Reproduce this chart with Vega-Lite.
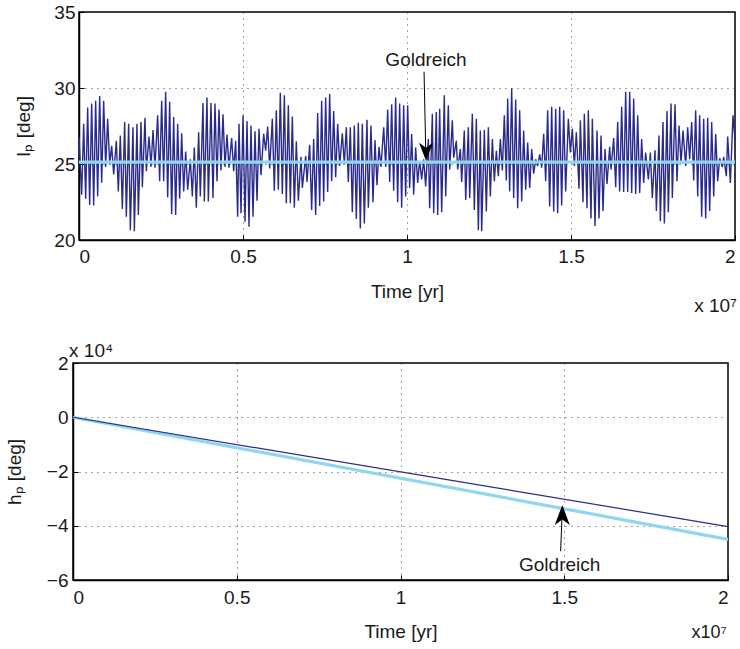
{
"$schema": "https://vega.github.io/schema/vega-lite/v6.json",
"padding": {"left": 0, "top": 2, "right": 2, "bottom": 0},
"background": "#ffffff",
"spacing": 23,
"config": {
  "font": "Liberation Sans",
  "view": {"stroke": "#000000", "strokeWidth": 1.5},
  "axis": {
    "domainColor": "#000000", "domainWidth": 1.5,
    "labelFont": "Liberation Sans", "labelFontSize": 19, "labelColor": "#1a1a1a",
    "titleFont": "Liberation Sans", "titleFontSize": 19, "titleFontWeight": "normal", "titleColor": "#1a1a1a",
    "grid": true, "gridColor": "#333333", "gridDash": [1, 5], "gridWidth": 1, "gridOpacity": 0.9,
    "ticks": true, "tickSize": -5, "tickColor": "#000000", "tickWidth": 1
  }
},
"datasets": {
  "ip": [
    {"t":0.0,"I":26.76},{"t":0.0081,"I":22.98},{"t":0.0142,"I":27.64},{"t":0.0203,"I":22.71},{"t":0.0264,"I":28.71},{"t":0.0325,"I":22.31},{"t":0.0386,"I":28.98},{"t":0.0447,"I":22.27},{"t":0.0508,"I":29.16},{"t":0.0569,"I":22.87},
    {"t":0.0630,"I":29.47},{"t":0.0691,"I":23.76},{"t":0.0752,"I":29.16},{"t":0.0813,"I":24.80},{"t":0.0874,"I":27.98},{"t":0.0935,"I":24.98},{"t":0.0996,"I":26.20},{"t":0.1057,"I":24.31},{"t":0.1138,"I":26.53},{"t":0.1199,"I":23.20},
    {"t":0.1260,"I":26.87},{"t":0.1321,"I":22.04},{"t":0.1392,"I":27.76},{"t":0.1443,"I":21.53},{"t":0.1514,"I":27.64},{"t":0.1565,"I":20.64},{"t":0.1646,"I":27.42},{"t":0.1687,"I":20.58},{"t":0.1768,"I":27.64},{"t":0.1809,"I":21.64},
    {"t":0.1890,"I":27.76},{"t":0.1931,"I":23.47},{"t":0.2012,"I":28.04},{"t":0.2053,"I":24.53},{"t":0.2134,"I":26.80},{"t":0.2195,"I":24.80},{"t":0.2256,"I":27.24},{"t":0.2317,"I":24.76},{"t":0.2398,"I":28.20},{"t":0.2459,"I":23.87},
    {"t":0.2520,"I":29.16},{"t":0.2581,"I":23.87},{"t":0.2642,"I":29.76},{"t":0.2703,"I":22.80},{"t":0.2764,"I":29.09},{"t":0.2825,"I":21.69},{"t":0.2886,"I":28.09},{"t":0.2947,"I":21.64},{"t":0.3008,"I":27.64},{"t":0.3069,"I":22.71},
    {"t":0.3130,"I":27.02},{"t":0.3191,"I":23.20},{"t":0.3252,"I":25.82},{"t":0.3313,"I":23.31},{"t":0.3394,"I":25.31},{"t":0.3455,"I":22.87},{"t":0.3516,"I":26.09},{"t":0.3577,"I":22.13},{"t":0.3648,"I":27.09},{"t":0.3699,"I":22.87},
    {"t":0.3780,"I":29.02},{"t":0.3821,"I":22.53},{"t":0.3902,"I":29.38},{"t":0.3943,"I":22.53},{"t":0.4024,"I":29.02},{"t":0.4085,"I":22.76},{"t":0.4146,"I":28.98},{"t":0.4207,"I":23.87},{"t":0.4268,"I":28.58},{"t":0.4329,"I":24.58},
    {"t":0.4390,"I":28.27},{"t":0.4451,"I":24.80},{"t":0.4512,"I":26.93},{"t":0.4573,"I":24.76},{"t":0.4654,"I":26.71},{"t":0.4715,"I":24.53},{"t":0.4776,"I":26.53},{"t":0.4837,"I":21.53},
    {"t":0.4878,"I":27.64},{"t":0.4939,"I":21.76},{"t":0.5000,"I":28.20},{"t":0.5061,"I":21.20},{"t":0.5122,"I":27.82},{"t":0.5183,"I":20.87},{"t":0.5244,"I":27.53},{"t":0.5305,"I":21.53},{"t":0.5366,"I":27.16},{"t":0.5427,"I":22.58},
    {"t":0.5488,"I":27.31},{"t":0.5549,"I":24.27},{"t":0.5630,"I":26.98},{"t":0.5691,"I":25.87},{"t":0.5752,"I":27.47},{"t":0.5813,"I":24.71},{"t":0.5894,"I":27.98},{"t":0.5955,"I":23.24},{"t":0.6016,"I":28.53},{"t":0.6077,"I":23.31},
    {"t":0.6138,"I":29.69},{"t":0.6199,"I":23.02},{"t":0.6260,"I":29.53},{"t":0.6321,"I":22.42},{"t":0.6382,"I":28.87},{"t":0.6443,"I":22.42},{"t":0.6504,"I":28.13},{"t":0.6565,"I":22.13},{"t":0.6626,"I":26.49},{"t":0.6687,"I":22.58},
    {"t":0.6768,"I":25.47},{"t":0.6809,"I":23.42},{"t":0.6911,"I":25.53},{"t":0.6951,"I":23.82},{"t":0.7033,"I":26.27},{"t":0.7093,"I":21.98},{"t":0.7154,"I":26.64},{"t":0.7215,"I":21.64},{"t":0.7276,"I":28.36},{"t":0.7337,"I":22.24},
    {"t":0.7398,"I":29.16},{"t":0.7459,"I":22.53},{"t":0.7520,"I":29.38},{"t":0.7581,"I":23.16},{"t":0.7642,"I":29.60},{"t":0.7703,"I":23.87},{"t":0.7764,"I":28.49},{"t":0.7825,"I":24.13},{"t":0.7886,"I":27.64},{"t":0.7947,"I":24.87},
    {"t":0.8028,"I":27.02},{"t":0.8089,"I":24.98},{"t":0.8150,"I":27.42},{"t":0.8211,"I":23.82},{"t":0.8272,"I":27.42},{"t":0.8333,"I":21.82},{"t":0.8394,"I":27.53},{"t":0.8455,"I":21.38},{"t":0.8516,"I":27.71},{"t":0.8577,"I":20.76},
    {"t":0.8638,"I":27.64},{"t":0.8699,"I":21.09},{"t":0.8780,"I":27.91},{"t":0.8821,"I":22.13},{"t":0.8902,"I":27.53},{"t":0.8963,"I":22.49},{"t":0.9024,"I":26.58},{"t":0.9085,"I":23.60},{"t":0.9146,"I":26.13},{"t":0.9207,"I":24.80},
    {"t":0.9289,"I":27.42},{"t":0.9350,"I":24.80},{"t":0.9411,"I":28.58},{"t":0.9472,"I":23.82},{"t":0.9533,"I":28.93},{"t":0.9593,"I":23.24},{"t":0.9654,"I":29.38},{"t":0.9715,"I":22.49},{"t":0.9776,"I":28.98},{"t":0.9837,"I":22.13},
    {"t":0.9898,"I":28.87},{"t":0.9959,"I":22.87},{"t":1.0020,"I":28.87},{"t":1.0081,"I":23.42},{"t":1.0142,"I":26.98},{"t":1.0203,"I":22.98},{"t":1.0264,"I":26.09},{"t":1.0325,"I":23.76},{"t":1.0386,"I":25.20},{"t":1.0447,"I":23.98},
    {"t":1.0508,"I":25.31},{"t":1.0569,"I":23.53},{"t":1.0650,"I":26.64},{"t":1.0691,"I":22.09},{"t":1.0772,"I":28.31},{"t":1.0813,"I":21.76},{"t":1.0894,"I":28.42},{"t":1.0935,"I":21.64},{"t":1.0996,"I":28.64},{"t":1.1057,"I":21.82},
    {"t":1.1138,"I":29.53},{"t":1.1179,"I":22.87},{"t":1.1260,"I":28.87},{"t":1.1301,"I":24.64},{"t":1.1382,"I":27.87},{"t":1.1423,"I":25.42},{"t":1.1504,"I":26.53},{"t":1.1545,"I":24.64},{"t":1.1626,"I":25.98},{"t":1.1667,"I":23.82},
    {"t":1.1748,"I":27.20},{"t":1.1789,"I":22.64},{"t":1.1870,"I":27.42},{"t":1.1911,"I":22.76},{"t":1.1992,"I":28.31},{"t":1.2053,"I":21.98},{"t":1.2114,"I":27.98},{"t":1.2175,"I":20.64},{"t":1.2236,"I":27.20},{"t":1.2276,"I":20.58},
    {"t":1.2358,"I":27.24},{"t":1.2419,"I":21.87},{"t":1.2480,"I":27.42},{"t":1.2541,"I":22.87},{"t":1.2602,"I":26.64},{"t":1.2663,"I":23.87},{"t":1.2724,"I":25.87},{"t":1.2785,"I":24.20},{"t":1.2846,"I":26.64},{"t":1.2907,"I":24.58},
    {"t":1.2967,"I":28.20},{"t":1.3028,"I":23.91},{"t":1.3069,"I":29.31},{"t":1.3130,"I":23.20},{"t":1.3191,"I":29.98},{"t":1.3252,"I":22.76},{"t":1.3313,"I":29.24},{"t":1.3374,"I":22.09},{"t":1.3435,"I":28.53},{"t":1.3496,"I":22.53},
    {"t":1.3557,"I":27.20},{"t":1.3618,"I":23.31},{"t":1.3679,"I":26.42},{"t":1.3740,"I":23.42},{"t":1.3801,"I":25.98},{"t":1.3862,"I":24.36},{"t":1.3923,"I":25.31},{"t":1.3984,"I":24.87},{"t":1.4045,"I":25.64},{"t":1.4106,"I":24.76},
    {"t":1.4167,"I":26.98},{"t":1.4228,"I":23.87},{"t":1.4289,"I":28.53},{"t":1.4350,"I":22.20},{"t":1.4411,"I":28.76},{"t":1.4472,"I":21.87},{"t":1.4533,"I":28.64},{"t":1.4593,"I":21.76},{"t":1.4654,"I":28.76},{"t":1.4715,"I":22.27},
    {"t":1.4776,"I":28.53},{"t":1.4837,"I":23.20},
    {"t":1.4919,"I":27.98},{"t":1.4980,"I":25.76},{"t":1.5041,"I":27.31},{"t":1.5102,"I":24.87},{"t":1.5163,"I":27.09},{"t":1.5244,"I":23.38},{"t":1.5285,"I":27.87},{"t":1.5366,"I":22.49},{"t":1.5406,"I":28.31},{"t":1.5488,"I":22.09},
    {"t":1.5528,"I":28.53},{"t":1.5610,"I":21.42},{"t":1.5650,"I":27.98},{"t":1.5732,"I":20.93},{"t":1.5793,"I":27.20},{"t":1.5854,"I":21.42},{"t":1.5915,"I":26.87},{"t":1.5976,"I":21.91},{"t":1.6037,"I":25.98},{"t":1.6098,"I":23.69},
    {"t":1.6179,"I":26.13},{"t":1.6220,"I":24.64},{"t":1.6301,"I":26.71},{"t":1.6362,"I":23.47},{"t":1.6423,"I":27.76},{"t":1.6484,"I":23.20},{"t":1.6545,"I":28.76},{"t":1.6606,"I":23.16},{"t":1.6667,"I":29.76},{"t":1.6728,"I":23.16},
    {"t":1.6789,"I":29.76},{"t":1.6850,"I":23.09},{"t":1.6911,"I":29.31},{"t":1.6972,"I":23.02},{"t":1.7033,"I":28.20},{"t":1.7093,"I":23.09},{"t":1.7154,"I":26.64},{"t":1.7215,"I":23.76},{"t":1.7276,"I":25.76},{"t":1.7358,"I":23.98},
    {"t":1.7419,"I":25.76},{"t":1.7480,"I":22.76},{"t":1.7561,"I":25.91},{"t":1.7602,"I":21.91},{"t":1.7683,"I":26.87},{"t":1.7724,"I":21.24},{"t":1.7805,"I":27.76},{"t":1.7846,"I":21.09},{"t":1.7927,"I":28.49},{"t":1.7967,"I":21.82},
    {"t":1.8049,"I":28.98},{"t":1.8089,"I":22.76},{"t":1.8171,"I":28.93},{"t":1.8232,"I":23.87},{"t":1.8293,"I":27.53},{"t":1.8354,"I":25.02},{"t":1.8415,"I":27.20},{"t":1.8496,"I":24.87},{"t":1.8557,"I":27.42},{"t":1.8618,"I":25.31},
    {"t":1.8679,"I":27.76},{"t":1.8740,"I":23.91},{"t":1.8801,"I":28.53},{"t":1.8862,"I":22.87},{"t":1.8923,"I":28.20},{"t":1.8984,"I":21.53},{"t":1.9045,"I":27.98},{"t":1.9106,"I":21.42},{"t":1.9167,"I":28.04},{"t":1.9228,"I":21.91},
    {"t":1.9289,"I":27.76},{"t":1.9350,"I":22.87},{"t":1.9411,"I":26.98},{"t":1.9472,"I":23.87},{"t":1.9533,"I":25.38},{"t":1.9614,"I":24.80},{"t":1.9654,"I":25.47},{"t":1.9736,"I":24.20},{"t":1.9776,"I":26.80},{"t":1.9858,"I":23.76},
    {"t":1.9939,"I":28.20},{"t":2.0,"I":26.6}
  ]
},
"vconcat": [
  {"spacing": 0, "hconcat": [
  {"width": 14, "height": 10, "view": {"stroke": null}, "data": {"values": []}, "mark": "point", "encoding": {}},
  {
    "width": 656, "height": 228,
    "encoding": {
      "x": {"field": "t", "type": "quantitative", "scale": {"domain": [0, 2], "nice": false},
            "axis": {"title": "Time [yr]", "values": [0, 0.5, 1, 1.5, 2], "format": "~g", "labelPadding": 12, "titlePadding": 16}},
      "y": {"field": "I", "type": "quantitative", "scale": {"domain": [20, 35], "nice": false, "zero": false},
            "axis": {"title": "Iₚ [deg]", "values": [20, 25, 30, 35], "labelPadding": 9, "titlePadding": 20}}
    },
    "layer": [
      {"data": {"name": "ip"}, "mark": {"type": "line", "color": "#2a2a8c", "strokeWidth": 1.4}},
      {"data": {"values": [{"t": 0, "I": 25.12}, {"t": 2, "I": 25.12}]}, "mark": {"type": "line", "color": "#8fd6ee", "strokeWidth": 3.2}},
      {"data": {"values": [{"t": 1.052, "I": 31.07, "t2": 1.057, "I2": 26.0}]}, "mark": {"type": "rule", "color": "#000000", "strokeWidth": 1},
       "encoding": {"x2": {"field": "t2"}, "y2": {"field": "I2"}}},
      {"data": {"values": [{"t": 1.058, "I": 25.8}]}, "mark": {"type": "point", "shape": "M-1,-1.29L0,1.29L1,-1.29L0,-0.6Z", "size": 196, "filled": true, "color": "#000000", "opacity": 1}},
      {"data": {"values": [{"t": 1.058, "I": 31.87, "label": "Goldreich"}]}, "mark": {"type": "text", "fontSize": 19, "color": "#1a1a1a", "align": "center", "baseline": "middle"},
       "encoding": {"text": {"field": "label"}}},
      {"data": {"values": [{"t": 2.006, "I": 15.67, "label": "x 10⁷"}]}, "mark": {"type": "text", "fontSize": 19, "color": "#1a1a1a", "align": "right", "baseline": "middle"},
       "encoding": {"text": {"field": "label"}}}
    ]
  }]},
  {"spacing": 0, "hconcat": [
  {"width": 4, "height": 10, "view": {"stroke": null}, "data": {"values": []}, "mark": "point", "encoding": {}},
  {
    "width": 655, "height": 217,
    "encoding": {
      "x": {"field": "t", "type": "quantitative", "scale": {"domain": [0, 2], "nice": false},
            "axis": {"title": "Time [yr]", "values": [0, 0.5, 1, 1.5, 2], "format": "~g", "labelPadding": 13, "titlePadding": 15}},
      "y": {"field": "h", "type": "quantitative", "scale": {"domain": [-6, 2], "nice": false, "zero": false},
            "axis": {"title": "hₚ [deg]", "values": [-6, -4, -2, 0, 2], "labelPadding": 10, "titlePadding": 22}}
    },
    "layer": [
      {"data": {"values": [{"t": 0, "h": 0}, {"t": 2, "h": -4.5}]}, "mark": {"type": "line", "color": "#8fd6ee", "strokeWidth": 3.2}},
      {"data": {"values": [{"t": 0, "h": 0}, {"t": 2, "h": -4.03}]}, "mark": {"type": "line", "color": "#2a2a8c", "strokeWidth": 1.2}},
      {"data": {"values": [{"t": 1.489, "h": -4.94, "t2": 1.493, "h2": -3.7}]}, "mark": {"type": "rule", "color": "#000000", "strokeWidth": 1},
       "encoding": {"x2": {"field": "t2"}, "y2": {"field": "h2"}}},
      {"data": {"values": [{"t": 1.494, "h": -3.6}]}, "mark": {"type": "point", "shape": "M-1,1.33L0,-1.33L1,1.33L0,0.6Z", "size": 225, "filled": true, "color": "#000000", "opacity": 1}},
      {"data": {"values": [{"t": 1.486, "h": -5.43, "label": "Goldreich"}]}, "mark": {"type": "text", "fontSize": 19, "color": "#1a1a1a", "align": "center", "baseline": "middle"},
       "encoding": {"text": {"field": "label"}}},
      {"data": {"values": [{"t": -0.012, "h": 2.46, "label": "x 10⁴"}]}, "mark": {"type": "text", "fontSize": 19, "color": "#1a1a1a", "align": "left", "baseline": "middle"},
       "encoding": {"text": {"field": "label"}}},
      {"data": {"values": [{"t": 1.997, "h": -7.96, "label": "x10⁷"}]}, "mark": {"type": "text", "fontSize": 18, "color": "#1a1a1a", "align": "right", "baseline": "middle"},
       "encoding": {"text": {"field": "label"}}}
    ]
  }]}
]
}
